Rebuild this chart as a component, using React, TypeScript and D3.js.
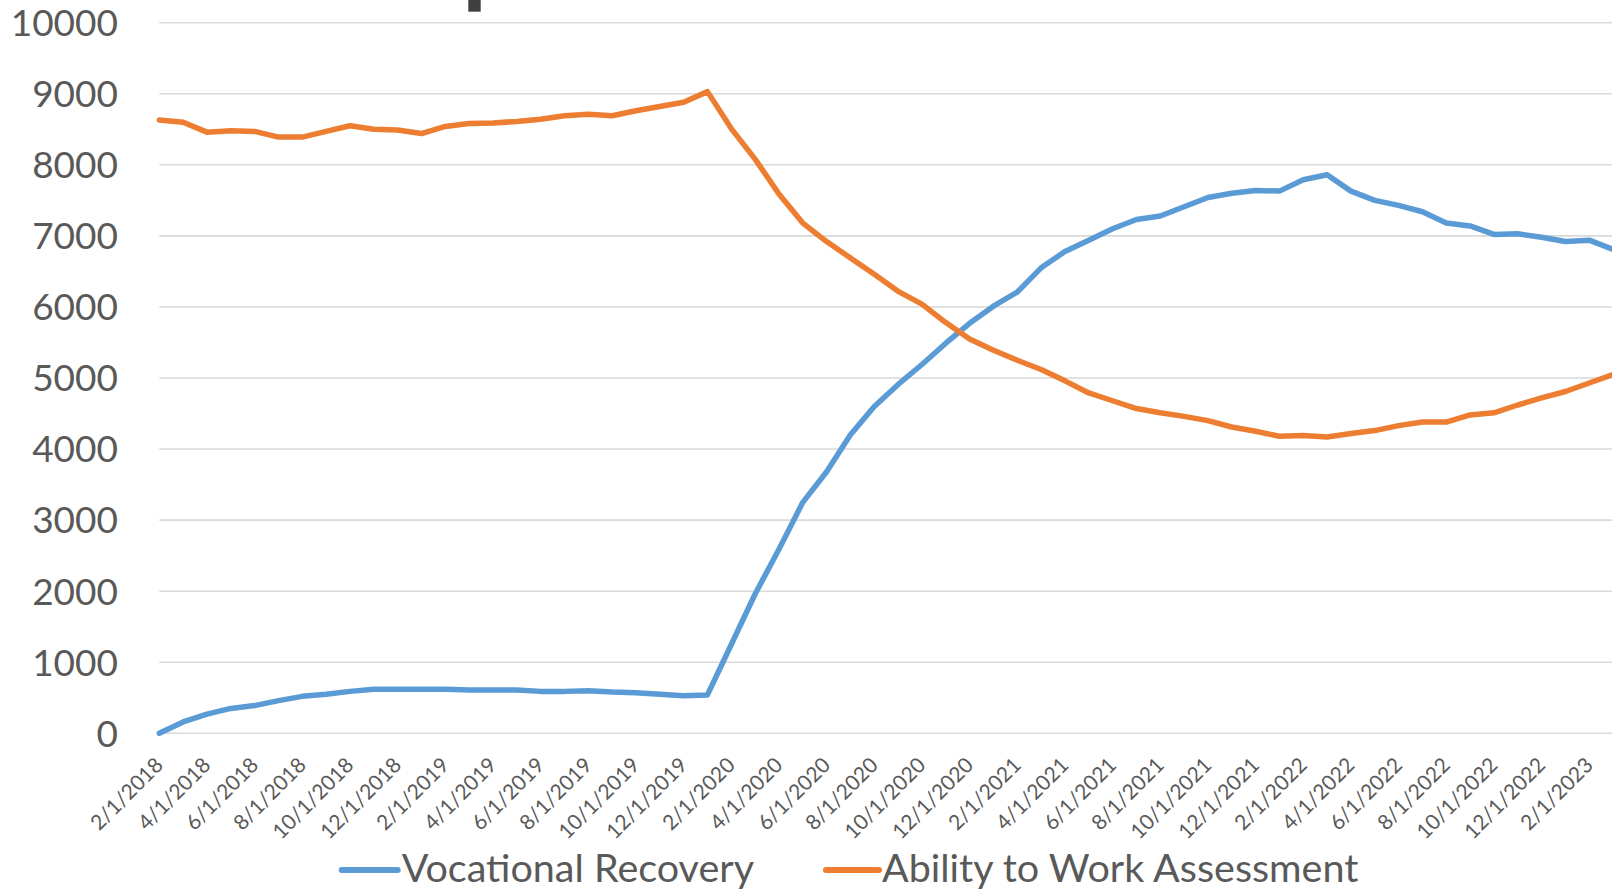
import React from "react";
import * as d3 from "d3";

const months: string[] = [
  "2/1/2018","3/1/2018","4/1/2018","5/1/2018","6/1/2018","7/1/2018","8/1/2018","9/1/2018","10/1/2018","11/1/2018","12/1/2018",
  "1/1/2019","2/1/2019","3/1/2019","4/1/2019","5/1/2019","6/1/2019","7/1/2019","8/1/2019","9/1/2019","10/1/2019","11/1/2019","12/1/2019",
  "1/1/2020","2/1/2020","3/1/2020","4/1/2020","5/1/2020","6/1/2020","7/1/2020","8/1/2020","9/1/2020","10/1/2020","11/1/2020","12/1/2020",
  "1/1/2021","2/1/2021","3/1/2021","4/1/2021","5/1/2021","6/1/2021","7/1/2021","8/1/2021","9/1/2021","10/1/2021","11/1/2021","12/1/2021",
  "1/1/2022","2/1/2022","3/1/2022","4/1/2022","5/1/2022","6/1/2022","7/1/2022","8/1/2022","9/1/2022","10/1/2022","11/1/2022","12/1/2022",
  "1/1/2023","2/1/2023","3/1/2023",
];

const vocationalRecovery: number[] = [
  0, 160, 270, 350, 390, 460, 520, 550, 590, 620, 620,
  620, 620, 610, 610, 610, 590, 590, 600, 580, 570, 550, 530,
  540, 1250, 1960, 2590, 3250, 3680, 4200, 4600, 4910, 5190, 5490, 5770,
  6010, 6210, 6550, 6780, 6940, 7100, 7230, 7280, 7410, 7540, 7600, 7640,
  7630, 7790, 7860, 7630, 7500, 7430, 7340, 7180, 7140, 7020, 7030, 6980,
  6920, 6940, 6810,
];

const abilityToWork: number[] = [
  8630, 8600, 8460, 8480, 8470, 8390, 8390, 8470, 8550, 8500, 8490,
  8440, 8540, 8580, 8590, 8610, 8640, 8690, 8710, 8690, 8760, 8820, 8880,
  9030, 8510, 8080, 7590, 7180, 6920, 6690, 6460, 6220, 6040, 5780, 5550,
  5390, 5250, 5120, 4960, 4790, 4680, 4570, 4510, 4460, 4400, 4310, 4250,
  4180, 4190, 4170, 4220, 4260, 4330, 4380, 4380, 4480, 4510, 4620, 4720,
  4810, 4930, 5050,
];

const yTicks: number[] = [0, 1000, 2000, 3000, 4000, 5000, 6000, 7000, 8000, 9000, 10000];

const seriesNames: string[] = ["Vocational Recovery", "Ability to Work Assessment"];
const seriesColors: string[] = ["#5B9BD5", "#ED7D31"];

const W = 1612;
const H = 889;
const FONT = "Lato, 'Open Sans', sans-serif";
const TEXT = "#595959";

export default function App() {
  const x = d3
    .scalePoint<number>()
    .domain(months.map((_, i) => i))
    .range([159.3, 1613.1]);
  const y = d3.scaleLinear().domain([0, 10000]).range([733.3, 22.7]);

  const line = d3
    .line<number>()
    .x((_, i) => x(i) as number)
    .y((d) => y(d));

  const series = [vocationalRecovery, abilityToWork];

  const legend = [
    { x1: 341.7, x2: 397.7, tx: 401.7 },
    { x1: 826, x2: 879, tx: 882 },
  ];

  return (
    <svg
      width={W}
      height={H}
      viewBox={`0 0 ${W} ${H}`}
      style={{ position: "absolute", left: 0, top: 0, background: "#fff" }}
    >
      <rect x={0} y={0} width={W} height={H} fill="#fff" />
      {/* fragment of the cropped title */}
      <rect x={468.3} y={0} width={12.4} height={11.7} fill="#404040" />
      {/* gridlines */}
      {yTicks.map((t) => (
        <line
          key={"g" + t}
          x1={159.3}
          x2={W}
          y1={y(t)}
          y2={y(t)}
          stroke="#d9d9d9"
          strokeWidth={1.6}
        />
      ))}
      {/* y tick labels */}
      {yTicks.map((t) => (
        <text
          key={"yl" + t}
          x={118}
          y={y(t)}
          dy="0.36em"
          textAnchor="end"
          fontFamily={FONT}
          fontSize={37}
          fill={TEXT}
        >
          {t}
        </text>
      ))}
      {/* x tick labels */}
      {months.map((m, i) =>
        i % 2 === 0 ? (
          <text
            key={"xl" + i}
            transform={`translate(${(x(i) as number) + 5},${766.5}) rotate(-45)`}
            textAnchor="end"
            fontFamily={FONT}
            fontSize={21}
            fill={TEXT}
          >
            {m}
          </text>
        ) : null
      )}
      {/* lines */}
      {series.map((s, k) => (
        <path
          key={"s" + k}
          d={line(s) || ""}
          fill="none"
          stroke={seriesColors[k]}
          strokeWidth={5.5}
          strokeLinejoin="round"
          strokeLinecap="round"
        />
      ))}
      {/* legend */}
      {legend.map((l, k) => (
        <g key={"lg" + k}>
          <line
            x1={l.x1}
            x2={l.x2}
            y1={870}
            y2={870}
            stroke={seriesColors[k]}
            strokeWidth={6}
            strokeLinecap="round"
          />
          <text
            x={l.tx}
            y={882}
            fontFamily={FONT}
            fontSize={39.5}
            fill={TEXT}
          >
            {seriesNames[k]}
          </text>
        </g>
      ))}
    </svg>
  );
}
